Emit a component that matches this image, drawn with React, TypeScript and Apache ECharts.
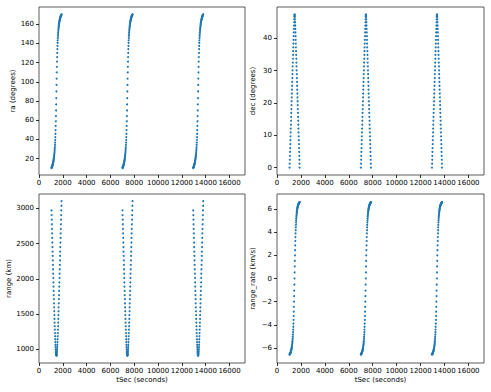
import React, { useEffect, useRef } from "react";
import * as echarts from "echarts";

// time offsets (s) from closest approach, shared by each pass
const TAU_S = [
  -410, -400, -390, -380, -370, -360, -350, -340, -330, -320, -310, -300, -290, -280, -270, -260, -250,
  -240, -230, -220, -210, -200, -190, -180, -170, -160, -150, -140, -130, -120, -110, -100, -90, -80,
  -70, -60, -50, -40, -30, -20, -10, 0, 10, 20, 30, 40, 50, 60, 70, 80, 90, 100, 110, 120, 130, 140,
  150, 160, 170, 180, 190, 200, 210, 220, 230, 240, 250, 260, 270, 280, 290, 300, 310, 320, 330, 340,
  350, 360, 370, 380, 390, 400, 410, 420, 430,
];

// closest-approach time of each pass (s)
const PASS_TCA_S = [1460, 7420, 13360];

const RA_DEG = [
  10.27, 10.56, 10.87, 11.18, 11.52, 11.87, 12.25, 12.64, 13.05, 13.49, 13.96, 14.45, 14.98, 15.54,
  16.14, 16.78, 17.47, 18.21, 19.0, 19.86, 20.79, 21.79, 22.89, 24.09, 25.4, 26.85, 28.43, 30.18,
  32.13, 34.31, 36.73, 39.45, 42.51, 45.94, 49.8, 54.13, 58.97, 64.34, 70.2, 76.52, 83.17, 90.0,
  96.83, 103.48, 109.8, 115.66, 121.03, 125.87, 130.2, 134.06, 137.49, 140.55, 143.27, 145.69, 147.87,
  149.82, 151.57, 153.15, 154.6, 155.91, 157.11, 158.21, 159.21, 160.14, 161.0, 161.79, 162.53,
  163.22, 163.86, 164.46, 165.02, 165.55, 166.04, 166.51, 166.95, 167.36, 167.75, 168.13, 168.48,
  168.82, 169.13, 169.44, 169.73, 170.0, 170.27,
];

const DEC_DEG = [
  0.0, 1.21, 2.42, 3.63, 4.83, 6.04, 7.25, 8.46, 9.67, 10.87, 12.08, 13.29, 14.49, 15.7, 16.9, 18.11,
  19.31, 20.52, 21.72, 22.92, 24.12, 25.32, 26.52, 27.72, 28.92, 30.11, 31.3, 32.49, 33.68, 34.86,
  36.04, 37.22, 38.38, 39.54, 40.68, 41.81, 42.91, 43.97, 44.98, 45.89, 46.67, 47.2, 47.4, 47.2,
  46.67, 45.89, 44.98, 43.97, 42.91, 41.81, 40.68, 39.54, 38.38, 37.22, 36.04, 34.86, 33.68, 32.49,
  31.3, 30.11, 28.92, 27.72, 26.52, 25.32, 24.12, 22.92, 21.72, 20.52, 19.31, 18.11, 16.9, 15.7,
  14.49, 13.29, 12.08, 10.87, 9.67, 8.46, 7.25, 6.04, 4.83, 3.63, 2.42, 1.21, 0.0,
];

const RANGE_KM = [
  2972, 2906, 2841, 2775, 2710, 2645, 2581, 2516, 2452, 2388, 2325, 2261, 2198, 2136, 2073, 2012,
  1950, 1890, 1829, 1770, 1711, 1653, 1596, 1540, 1485, 1431, 1378, 1327, 1278, 1230, 1185, 1142,
  1102, 1064, 1030, 1000, 973, 951, 933, 920, 913, 910, 913, 920, 933, 951, 973, 1000, 1030, 1064,
  1102, 1142, 1185, 1230, 1278, 1327, 1378, 1431, 1485, 1540, 1596, 1653, 1711, 1770, 1829, 1890,
  1950, 2012, 2073, 2136, 2198, 2261, 2325, 2388, 2452, 2516, 2581, 2645, 2710, 2775, 2841, 2906,
  2972, 3038, 3103,
];

const RANGE_RATE_KMS = [
  -6.57, -6.55, -6.54, -6.52, -6.5, -6.48, -6.46, -6.43, -6.41, -6.38, -6.35, -6.32, -6.28, -6.24,
  -6.2, -6.15, -6.1, -6.05, -5.99, -5.92, -5.84, -5.76, -5.67, -5.57, -5.45, -5.32, -5.18, -5.02,
  -4.84, -4.64, -4.42, -4.17, -3.89, -3.58, -3.24, -2.86, -2.45, -2.0, -1.53, -1.04, -0.52, 0.0, 0.52,
  1.04, 1.53, 2.0, 2.45, 2.86, 3.24, 3.58, 3.89, 4.17, 4.42, 4.64, 4.84, 5.02, 5.18, 5.32, 5.45, 5.57,
  5.67, 5.76, 5.84, 5.92, 5.99, 6.05, 6.1, 6.15, 6.2, 6.24, 6.28, 6.32, 6.35, 6.38, 6.41, 6.43, 6.46,
  6.48, 6.5, 6.52, 6.54, 6.55, 6.57, 6.58, 6.6,
];

const X_TICKS = [0, 2000, 4000, 6000, 8000, 10000, 12000, 14000, 16000];
const RA_TICKS = [20, 40, 60, 80, 100, 120, 140, 160];
const DEC_TICKS = [0, 10, 20, 30, 40];
const RANGE_TICKS = [1000, 1500, 2000, 2500, 3000];
const RR_TICKS = [-6, -4, -2, 0, 2, 4, 6];

const FONT = "DejaVu Sans";
const COLOR = "#1f77b4";

export default function App() {
  const ref = useRef<HTMLDivElement>(null);
  useEffect(() => {
    if (!ref.current) return;
    const chart = echarts.init(ref.current, undefined, { renderer: "svg" });

    const panels = [
      { values: RA_DEG, name: "ra (degrees)", min: 3, max: 178, ticks: RA_TICKS, grid: { left: 39, top: 7, width: 206, height: 168 }, xName: "" },
      { values: DEC_DEG, name: "dec (degrees)", min: -2.3, max: 49.7, ticks: DEC_TICKS, grid: { left: 277, top: 7, width: 207, height: 168 }, xName: "" },
      { values: RANGE_KM, name: "range (km)", min: 805, max: 3205, ticks: RANGE_TICKS, grid: { left: 39, top: 194, width: 206, height: 169 }, xName: "tSec (seconds)" },
      { values: RANGE_RATE_KMS, name: "range_rate (km/s)", min: -7.3, max: 7.3, ticks: RR_TICKS, grid: { left: 277, top: 194, width: 207, height: 169 }, xName: "tSec (seconds)" },
    ];

    const labelStyle = { fontFamily: FONT, fontSize: 7, color: "#000" };
    const tickStyle = { lineStyle: { color: "#000", width: 0.8 } };

    const option: any = {
      animation: false,
      backgroundColor: "#fff",
      grid: panels.map((p) => ({ ...p.grid, show: true, borderColor: "#333", borderWidth: 0.8, backgroundColor: "transparent" })),
      xAxis: panels.map((p, i) => ({
        type: "value",
        gridIndex: i,
        min: 0,
        max: 17300,
        position: "bottom",
        axisLine: { show: false, onZero: false },
        splitLine: { show: false },
        axisTick: { show: true, length: 3, customValues: X_TICKS, ...tickStyle },
        axisLabel: { ...labelStyle, margin: 4, customValues: X_TICKS, formatter: (v: number) => String(v) },
        name: p.xName,
        nameLocation: "middle",
        nameGap: 13,
        nameTextStyle: { ...labelStyle },
      })),
      yAxis: panels.map((p, i) => ({
        type: "value",
        gridIndex: i,
        min: p.min,
        max: p.max,
        position: "left",
        axisLine: { show: false, onZero: false },
        splitLine: { show: false },
        axisTick: { show: true, length: 3, customValues: p.ticks, ...tickStyle },
        axisLabel: {
          ...labelStyle,
          margin: 5,
          customValues: p.ticks,
          formatter: (v: number) => String(v).replace("-", "\u2212"),
        },
        name: p.name,
        nameLocation: "middle",
        nameRotate: 90,
        nameGap: 21,
        nameTextStyle: { ...labelStyle },
      })),
      series: panels.map((p, i) => {
        const data: number[][] = [];
        PASS_TCA_S.forEach((tca) => {
          TAU_S.forEach((tau, k) => data.push([tca + tau, p.values[k]]));
        });
        return {
          type: "scatter",
          xAxisIndex: i,
          yAxisIndex: i,
          data,
          symbol: "circle",
          symbolSize: 2,
          itemStyle: { color: COLOR, opacity: 1 },
          silent: true,
        };
      }),
    };
    chart.setOption(option);
    return () => chart.dispose();
  }, []);
  return (
    <div
      ref={ref}
      style={{ position: "fixed", left: 0, top: 0, width: 491, height: 392, background: "#fff" }}
    />
  );
}
